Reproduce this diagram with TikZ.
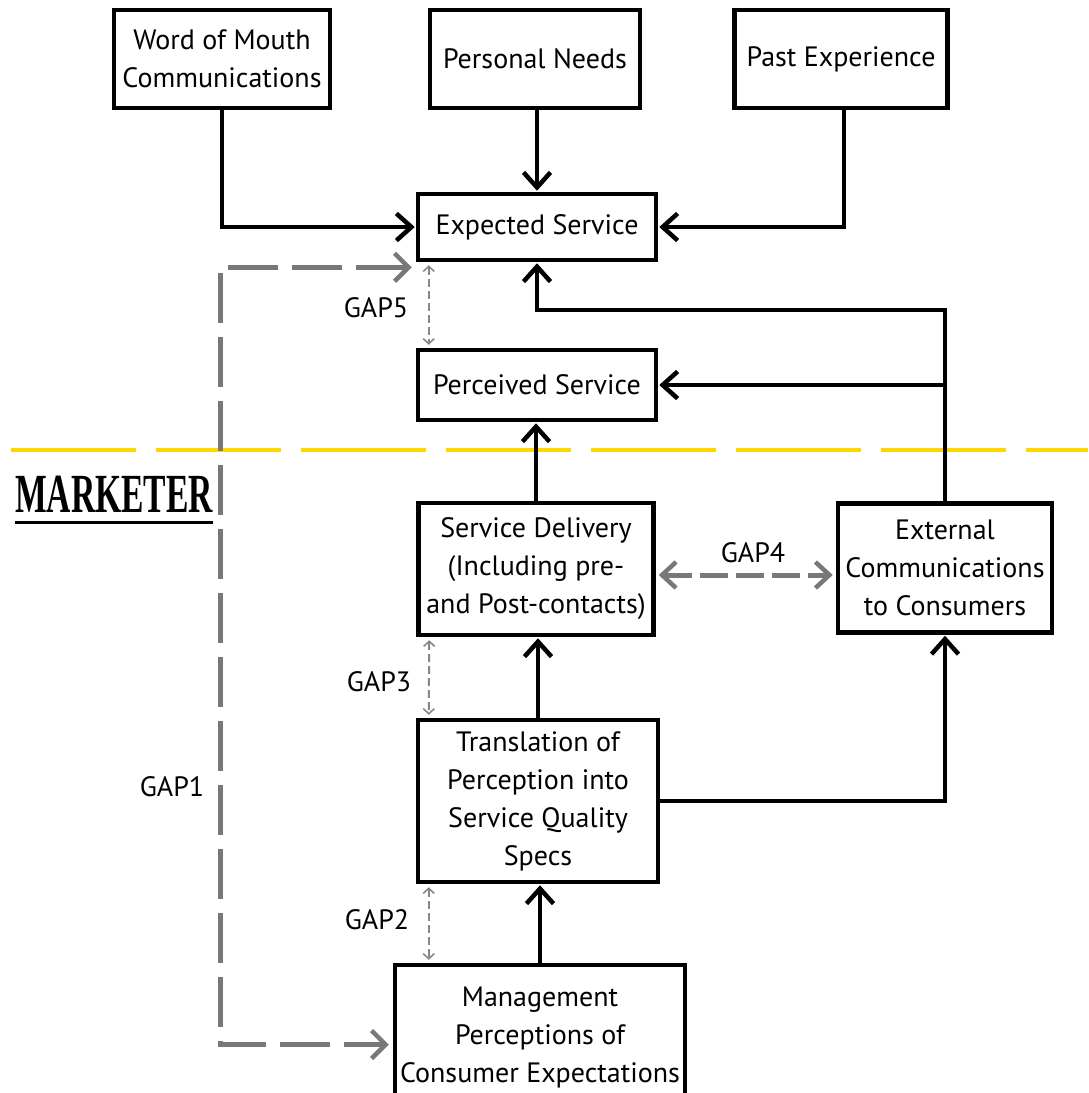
\documentclass[tikz,border=0pt]{standalone}
\usepackage{fontspec}
\setmainfont{PT Sans}
\newfontfamily\mkfont{Liberation Serif}
\usetikzlibrary{arrows.meta}
\definecolor{gapgray}{RGB}{120,120,120}
\definecolor{lgray}{RGB}{135,135,135}
\definecolor{gold}{RGB}{255,214,0}
\begin{document}
\begin{tikzpicture}[x=1pt,y=-1pt,
  box/.style={draw, line width=4.5pt, inner sep=0pt, align=center, fill=white,
    font=\fontsize{28}{38}\selectfont},
  lbl/.style={inner sep=0pt, font=\fontsize{28}{32}\selectfont},
  blk/.style={line width=4.5pt, -{Straight Barb[length=15pt,width=27pt,line width=4.5pt]}, shorten >=1pt},
  thingap/.style={draw=lgray, line width=2pt, dash pattern=on 8pt off 4pt,
    {Straight Barb[length=5pt,width=11pt,line width=1.6pt]}-{Straight Barb[length=5pt,width=11pt,line width=1.6pt]}},
  thickgap/.style={draw=gapgray, line width=5pt, dash pattern=on 50pt off 14pt,
    {Straight Barb[length=14pt,width=28pt,line width=4.5pt]}-{Straight Barb[length=14pt,width=28pt,line width=4.5pt]}},
  gapfour/.style={draw=gapgray, line width=5pt, dash pattern=on 28pt off 8pt,
    {Straight Barb[length=14pt,width=26pt,line width=4.5pt]}-{Straight Barb[length=14pt,width=26pt,line width=4.5pt]}}
]
\useasboundingbox (0,0) rectangle (1088,1093);

% yellow divider
\coordinate (ya) at (11,450);
\coordinate (yb) at (1088,450);
\draw[gold, line width=3.5pt, dash pattern=on 125pt off 20pt] (ya) -- (yb);

% boxes
\node[box,minimum width=216pt,minimum height=98pt] (wom) at (222,59) {Word of Mouth\\Communications};
\node[box,minimum width=210pt,minimum height=98pt] (pn) at (535,59) {Personal Needs};
\node[box,minimum width=213pt,minimum height=98pt] (pe) at (841,59) {Past Experience};
\node[box,minimum width=238pt,minimum height=66pt] (exp) at (537,227) {Expected Service};
\node[box,minimum width=238pt,minimum height=70pt] (perc) at (537,385) {Perceived Service};
\node[box,minimum width=235pt,minimum height=132pt] (sd) at (536,569) {Service Delivery\\(Including pre-\\and Post-contacts)};
\node[box,minimum width=214pt,minimum height=129pt] (ext) at (945,568) {External\\Communications\\to Consumers};
\node[box,minimum width=240pt,minimum height=162pt] (tr) at (538,801) {Translation of\\Perception into\\Service Quality\\Specs};
\node[box,minimum width=290pt,minimum height=145pt] (mg) at (540,1037.5) {Management\\Perceptions of\\Consumer Expectations};

% black connectors
\draw[blk] (wom.south) |- (exp.west);
\draw[blk] (pn.south -| exp.north) -- (exp.north);
\draw[blk] ([xshift=3pt]pe.south) |- (exp.east);
\coordinate (j1) at (945,310);
\draw[blk] (ext.north) -- (j1) -| (exp.south);
\draw[blk] (ext.north |- perc.east) -- (perc.east);
\draw[blk] (sd.north) -- (sd.north |- perc.south);
\draw[blk] (tr.north) -- (tr.north |- sd.south);
\draw[blk] (tr.east) -| (ext.south);
\draw[blk] (mg.north) -- (mg.north |- tr.south);

% gap arrows
\draw[thingap] ([xshift=13pt,yshift=-3pt]exp.south west) -- ([xshift=13pt,yshift=3pt]perc.north west);
\draw[thingap] ([xshift=13pt,yshift=-3pt]sd.south west) -- ([xshift=13pt,yshift=3pt]tr.north west);
\draw[thingap] ([xshift=13pt,yshift=-3pt]tr.south west) -- ([xshift=13pt,yshift=3pt]tr.south west |- mg.north);

\coordinate (g1) at (220,650);
\draw[thickgap] ([xshift=-4pt,yshift=-5pt]exp.south west) -| (g1) |- ([xshift=-4pt,yshift=-7pt]mg.west);

\draw[gapfour] ([xshift=3pt,yshift=-6pt]sd.east) -- ([xshift=-3pt,yshift=-6pt]sd.east -| ext.west);

% labels
\node[lbl] (l5) at (376,308) {GAP5};
\node[lbl] (l4) at (753,553) {GAP4};
\node[lbl] (l3) at (379,682) {GAP3};
\node[lbl] (l2) at (377,920) {GAP2};
\node[lbl] (l1) at (172,787) {GAP1};

% MARKETER
\node[anchor=base west, inner sep=0pt] (mk) at (15,512) {\scalebox{0.7}[1.15]{\mkfont\bfseries\fontsize{48}{48}\selectfont MARKETER}};
\draw[line width=3pt] ([yshift=-10pt]mk.base west) -- ([yshift=-10pt]mk.base east);
\end{tikzpicture}
\end{document}
